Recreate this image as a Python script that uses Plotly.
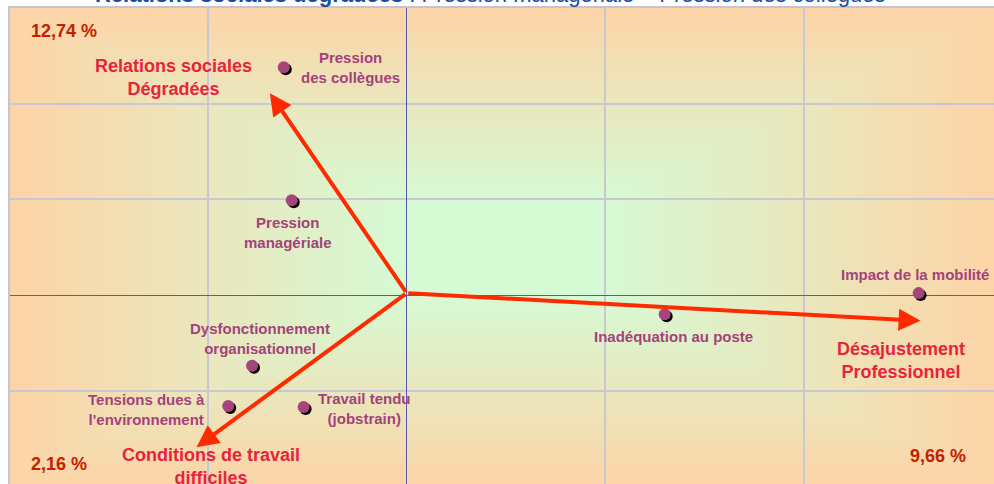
import plotly.graph_objects as go

# ---------------- data ----------------
point_labels = ["Pression<br>des collègues", "Pression<br>managériale",
                "Dysfonctionnement<br>organisationnel", "Tensions dues à<br>l'environnement",
                "Travail tendu<br>(jobstrain)", "Inadéquation au poste", "Impact de la mobilité"]
point_x = [-0.62, -0.58, -0.78, -0.90, -0.52, 1.30, 2.58]
point_y = [2.38, 0.99, -0.74, -1.16, -1.17, -0.20, 0.02]

axis_labels = ["Relations sociales<br>Dégradées", "Désajustement<br>Professionnel",
               "Conditions de travail<br>difficiles"]
axis_x = [-0.69, 2.59, -1.06]
axis_y = [2.11, -0.27, -1.59]
origin_x = 0.0
origin_y = 0.02

pct_labels = ["12,74 %", "2,16 %", "9,66 %"]

title_bold = "Relations sociales dégradées"
title_rest = " : Pression managériale + Pression des collègues"

# ---------------- layout constants ----------------
W, H = 994, 484
ML, MR, MT, MB = 10, 0, 8, 0
PW, PH = W - ML - MR, H - MT - MB
XR = [-2.0, 2.96]
YR = [-1.975, 3.0]
px_x = PW / (XR[1] - XR[0])
px_y = PH / (YR[1] - YR[0])

FONT = "Liberation Sans, Arial, sans-serif"
MARK = "#A5457B"
LABC = "#A3437A"
ARROW = "#FF2A00"
AXC = "#E8243C"
PCTC = "#C42000"

fig = go.Figure()

# shadow + markers
fig.add_trace(go.Scatter(
    x=[v + 2 / px_x for v in point_x], y=[v - 2 / px_y for v in point_y],
    mode="markers", marker=dict(size=12, color="#000000"), hoverinfo="skip"))
fig.add_trace(go.Scatter(
    x=point_x, y=point_y, mode="markers",
    marker=dict(size=12, color=MARK), hoverinfo="skip"))

# background rectangular gradient (flat green core -> peach edges), pixel geometry
green = (214, 250, 212)
orange = (253, 212, 167)
core_x0, core_x1, core_y0, core_y1 = 406, 606, 200, 295   # pixels
fade_x, fade_y = 392, 192
N = 70


def px2paper_x(p):
    return min(1.0, max(0.0, (p - ML) / PW))


def px2paper_y(p):
    return min(1.0, max(0.0, (H - MB - p) / PH))


shapes = []
for k in range(N + 1):
    t = 1 - k / N
    col = tuple(int(round(green[i] + (orange[i] - green[i]) * t)) for i in range(3))
    shapes.append(dict(type="rect", xref="paper", yref="paper",
                       x0=px2paper_x(core_x0 - fade_x * t), x1=px2paper_x(core_x1 + fade_x * t),
                       y0=px2paper_y(core_y1 + fade_y * t), y1=px2paper_y(core_y0 - fade_y * t),
                       fillcolor="rgb(%d,%d,%d)" % col, line=dict(width=0), layer="below"))

annotations = []
# arrows
for ex, ey in zip(axis_x, axis_y):
    annotations.append(dict(x=ex, y=ey, ax=origin_x, ay=origin_y, xref="x", yref="y",
                            axref="x", ayref="y", text="", showarrow=True,
                            arrowhead=2, arrowsize=1.1, arrowwidth=4, arrowcolor=ARROW,
                            standoff=0, startstandoff=0))

# point labels
pt_shift = [(67, 0), (-4, -32), (8, 27), (-82, -3), (61, -2), (9, -22), (-4, 19)]
for txt, px, py, (sx, sy) in zip(point_labels, point_x, point_y, pt_shift):
    annotations.append(dict(x=px, y=py, xref="x", yref="y", text="<b>" + txt + "</b>",
                            showarrow=False, xshift=sx, yshift=sy, align="center",
                            font=dict(family=FONT, size=15, color=LABC)))

# axis labels
ax_shift = [(-96, 16), (-20, -40), (15, -19)]
for txt, px, py, (sx, sy) in zip(axis_labels, axis_x, axis_y, ax_shift):
    annotations.append(dict(x=px, y=py, xref="x", yref="y", text="<b>" + txt + "</b>",
                            showarrow=False, xshift=sx, yshift=sy, align="center",
                            font=dict(family=FONT, size=18, color=AXC)))

# percentages
pct_pos = [(0.0196, 0.9527, "left"), (0.0196, 0.042, "left"), (0.9739, 0.0588, "right")]
for txt, (px, py, xa) in zip(pct_labels, pct_pos):
    annotations.append(dict(x=px, y=py, xref="paper", yref="paper", text="<b>" + txt + "</b>",
                            showarrow=False, xanchor=xa, yanchor="middle",
                            font=dict(family=FONT, size=18, color=PCTC)))

# clipped title at the very top
annotations.append(dict(x=(93 - ML) / PW, y=1 + (MT - 8.8) / PH, xref="paper", yref="paper",
                        xanchor="left", yanchor="bottom", showarrow=False,
                        text="<b>" + title_bold + "</b>" + title_rest,
                        font=dict(family=FONT, size=22, color="#1A4E9C")))

fig.update_layout(
    width=W, height=H, margin=dict(l=ML, r=MR, t=MT, b=MB, pad=0),
    paper_bgcolor="white", plot_bgcolor="rgb(%d,%d,%d)" % orange,
    showlegend=False, shapes=shapes, annotations=annotations,
    xaxis=dict(range=XR, tick0=0, dtick=1, showgrid=True, gridcolor="#C8C8D4", gridwidth=1.5,
               zeroline=True, zerolinecolor="#5858B0", zerolinewidth=1.3,
               showticklabels=False, ticks="", showline=True, linecolor="#C4C4D4",
               linewidth=1.5, side="top", fixedrange=True),
    yaxis=dict(range=YR, tick0=0, dtick=1, showgrid=True, gridcolor="#C8C8D4", gridwidth=1.5,
               zeroline=True, zerolinecolor="#5858B0", zerolinewidth=1.3,
               showticklabels=False, ticks="", showline=True, linecolor="#C4C4D4",
               linewidth=1.5, side="left", fixedrange=True),
)

fig.write_html("out.html", config={"displayModeBar": False},
               post_script="document.body.style.margin='0px';document.body.style.overflow='hidden';")
